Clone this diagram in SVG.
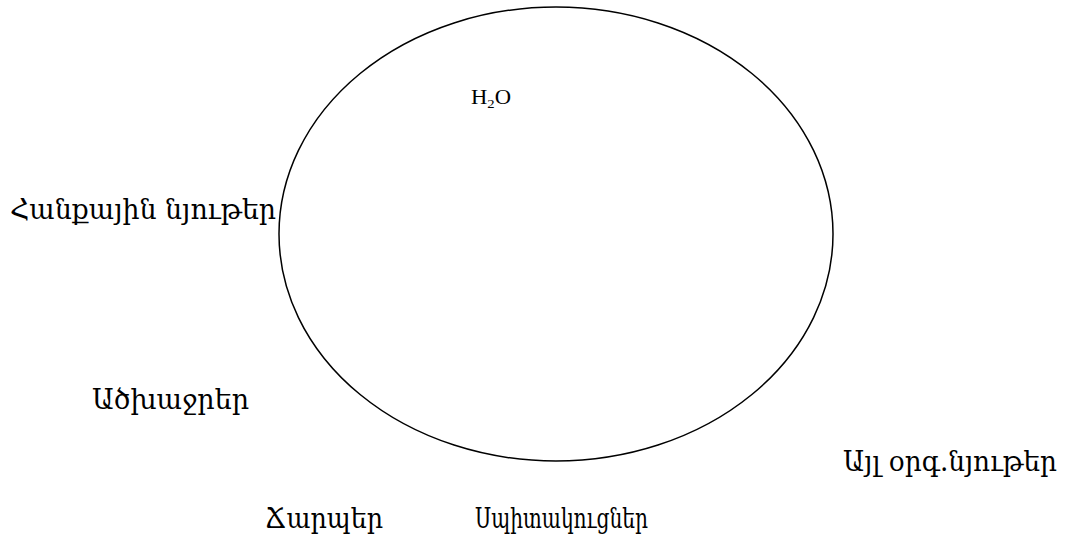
<svg xmlns="http://www.w3.org/2000/svg" width="1067" height="547" viewBox="0 0 1067 547">
  <style>
    .lbl { font-family: "DejaVu Serif", "Noto Serif", serif; font-size: 27px; fill: #000; }
    .chem { font-family: "Liberation Serif", "Times New Roman", serif; font-size: 20px; fill: #000; }
    .ring { fill: none; stroke: #000; stroke-width: 1.5; }
  </style>
  <rect width="1067" height="547" fill="#fff"/>
  <g id="cell">
    <ellipse class="ring" cx="556" cy="234" rx="277" ry="227"/>
    <text class="chem" x="471" y="104" textLength="40" lengthAdjust="spacingAndGlyphs">H<tspan font-size="13" dy="4">2</tspan><tspan dy="-4">O</tspan></text>
  </g>
  <g id="mineral">
    <text class="lbl" x="10" y="219" textLength="266" lengthAdjust="spacingAndGlyphs">Հանքային նյութեր</text>
  </g>
  <g id="carbohydrates">
    <text class="lbl" x="92" y="409" textLength="157" lengthAdjust="spacingAndGlyphs">Ածխաջրեր</text>
  </g>
  <g id="other-organic">
    <text class="lbl" x="843" y="471" textLength="214" lengthAdjust="spacingAndGlyphs">Այլ օրգ.նյութեր</text>
  </g>
  <g id="fats">
    <text class="lbl" x="265" y="528" textLength="118" lengthAdjust="spacingAndGlyphs">Ճարպեր</text>
  </g>
  <g id="proteins">
    <text class="lbl" x="475" y="528" textLength="173" lengthAdjust="spacingAndGlyphs">Սպիտակուցներ</text>
  </g>
  <g id="connectors"></g>
</svg>
